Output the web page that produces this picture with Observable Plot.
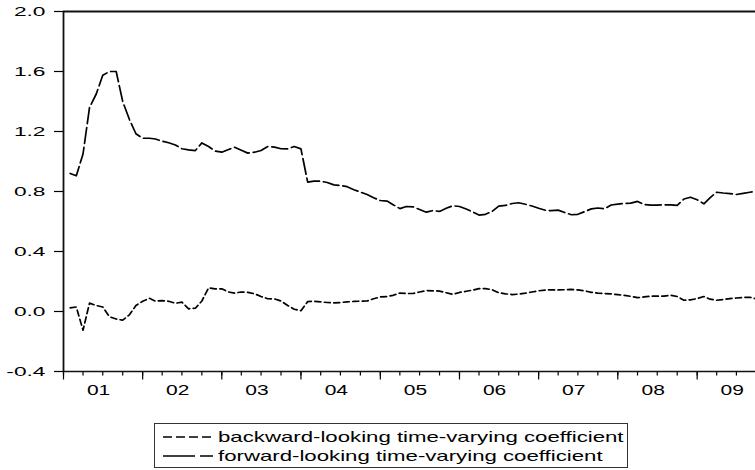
<!DOCTYPE html>
<html>
<head>
<meta charset="utf-8">
<script src="https://cdn.jsdelivr.net/npm/d3@7"></script>
<script src="https://cdn.jsdelivr.net/npm/@observablehq/plot@0.6"></script>
<style>
  html, body { margin: 0; padding: 0; background: #fff; }
  body { position: relative; width: 755px; height: 470px; overflow: hidden; font-family: "Liberation Sans", Arial, sans-serif; }
  #legend { position: absolute; left: 154px; top: 423px; width: 474px; height: 45px; border: 1px solid #333; box-sizing: border-box; background: #fff; }
  .row { position: absolute; left: 0; height: 18px; width: 100%; }
  .row svg { position: absolute; left: 8px; top: 7px; }
  .row span { position: absolute; left: 63px; top: 0; font-size: 15px; line-height: 18px; white-space: nowrap; color: #000; transform: scaleX(1.48); transform-origin: left center; }
</style>
</head>
<body>
<div id="chart"></div>
<div id="legend"></div>
<script>
// Monthly observations, first one is February 2001
const startYear = 2001;
const startMonth = 1; // 0-based: February

const forward = [
  0.92, 0.905, 1.05, 1.36, 1.45, 1.575, 1.60, 1.60, 1.40, 1.28, 1.185, 1.155,
  1.155, 1.15, 1.135, 1.125, 1.11, 1.085, 1.078, 1.073, 1.124, 1.10, 1.07, 1.062,
  1.08, 1.095, 1.075, 1.056, 1.062, 1.073, 1.10, 1.096, 1.085, 1.084, 1.10, 1.084,
  0.862, 0.869, 0.869, 0.86, 0.844, 0.84, 0.832, 0.812, 0.796, 0.78, 0.758, 0.74,
  0.736, 0.712, 0.686, 0.70, 0.698, 0.68, 0.662, 0.673, 0.667, 0.688, 0.705, 0.70,
  0.683, 0.665, 0.643, 0.648, 0.668, 0.703, 0.707, 0.72, 0.725, 0.715, 0.703, 0.688,
  0.675, 0.672, 0.676, 0.66, 0.645, 0.648, 0.666, 0.684, 0.69, 0.685, 0.71, 0.716,
  0.72, 0.723, 0.734, 0.713, 0.709, 0.709, 0.711, 0.711, 0.708, 0.75, 0.762, 0.745,
  0.718, 0.758, 0.795, 0.79, 0.786, 0.78, 0.787, 0.795, 0.803
];

const backward = [
  0.024, 0.03, -0.125, 0.056, 0.04, 0.03, -0.035, -0.05, -0.058, -0.022, 0.04, 0.068,
  0.088, 0.069, 0.073, 0.068, 0.055, 0.062, 0.018, 0.022, 0.07, 0.158, 0.151, 0.151,
  0.13, 0.123, 0.13, 0.128, 0.118, 0.10, 0.085, 0.084, 0.07, 0.04, 0.015, 0.005,
  0.066, 0.068, 0.064, 0.06, 0.057, 0.06, 0.064, 0.067, 0.069, 0.07, 0.085, 0.097,
  0.10, 0.108, 0.123, 0.12, 0.12, 0.13, 0.14, 0.138, 0.136, 0.125, 0.115, 0.127,
  0.135, 0.142, 0.152, 0.153, 0.145, 0.125, 0.118, 0.113, 0.116, 0.122, 0.13, 0.138,
  0.143, 0.144, 0.144, 0.145, 0.147, 0.144, 0.138, 0.128, 0.122, 0.12, 0.118, 0.112,
  0.107, 0.101, 0.092, 0.097, 0.102, 0.102, 0.102, 0.108, 0.10, 0.075, 0.078, 0.086,
  0.10, 0.082, 0.075, 0.08, 0.086, 0.09, 0.093, 0.095, 0.084
];

const seriesNames = [
  "backward-looking time-varying coefficient",
  "forward-looking time-varying coefficient"
];
const yTicks = [-0.4, 0.0, 0.4, 0.8, 1.2, 1.6, 2.0];
const yearTicks = [2001, 2002, 2003, 2004, 2005, 2006, 2007, 2008, 2009];
const yearLabels = ["01", "02", "03", "04", "05", "06", "07", "08", "09"];

const dateAt = (i) => new Date(Date.UTC(startYear, startMonth + i, 1));
const fwdRows = forward.map((v, i) => ({date: dateAt(i), value: v}));
const bwdRows = backward.map((v, i) => ({date: dateAt(i), value: v}));

const x0 = new Date(Date.UTC(2001, 0, 1));
const x1 = new Date(Date.UTC(2009, 8, 27));
const quarterDates = d3.utcMonth.every(3).range(x0, x1);
const yearDates = yearTicks.map((y) => new Date(Date.UTC(y, 0, 1)));
const labelDates = yearTicks.map((y) => new Date(Date.UTC(y, 5, 12)));
const labelOf = new Map(labelDates.map((d, i) => [+d, yearLabels[i]]));

const plot = Plot.plot({
  width: 755,
  height: 405,
  marginLeft: 63,
  marginRight: 0,
  marginTop: 11,
  marginBottom: 34,
  style: {fontFamily: "'Liberation Sans', Arial, sans-serif", color: "#000", background: "#fff", overflow: "visible"},
  x: {type: "utc", domain: [x0, x1], axis: null, label: null},
  y: {domain: [-0.4, 2.0], axis: null, label: null},
  marks: [
    Plot.axisY(yTicks, {anchor: "left", label: null, tickSize: 9, tickPadding: 9, fontSize: 13, strokeWidth: 1.2, tickFormat: (d) => d.toFixed(1)}),
    Plot.axisX(quarterDates, {anchor: "bottom", label: null, tickSize: 4.5, strokeWidth: 1.2, tickFormat: () => ""}),
    Plot.axisX(yearDates, {anchor: "bottom", label: null, tickSize: 8.5, strokeWidth: 1.2, tickFormat: () => ""}),
    Plot.axisX(labelDates, {anchor: "bottom", label: null, tickSize: 0, tickPadding: 14, fontSize: 14, tickFormat: (d) => labelOf.get(+d)}),
    Plot.ruleY([2.0], {stroke: "#111", strokeWidth: 1.8}),
    Plot.ruleY([-0.4], {stroke: "#111", strokeWidth: 1.5}),
    Plot.ruleX([x0], {stroke: "#111", strokeWidth: 1.8}),
    Plot.line(bwdRows, {x: "date", y: "value", stroke: "#000", strokeWidth: 1.7, strokeDasharray: "6,3.5"}),
    Plot.line(fwdRows, {x: "date", y: "value", stroke: "#000", strokeWidth: 1.7, strokeDasharray: "16,4"})
  ]
});
document.getElementById("chart").appendChild(plot);

// Stretch the tick labels horizontally to match the reference's wide lettering
function stretch(selector, s) {
  d3.select(plot).selectAll(selector).each(function () {
    const t = this.getAttribute("transform") || "";
    this.setAttribute("transform", t + ` scale(${s},1)`);
  });
}
stretch('g[aria-label="y-axis tick label"] text', 1.75);
stretch('g[aria-label="x-axis tick label"] text', 1.5);

// Legend
const legend = document.getElementById("legend");
const dashes = ["9,4", "32,5"];
const tops = [4, 23];
seriesNames.forEach((name, i) => {
  const row = document.createElement("div");
  row.className = "row";
  row.style.top = tops[i] + "px";
  row.innerHTML = `<svg width="50" height="4"><line x1="0" x2="50" y1="2" y2="2" stroke="#000" stroke-width="1.6" stroke-dasharray="${dashes[i]}"/></svg><span>${name}</span>`;
  legend.appendChild(row);
});
</script>
</body>
</html>
